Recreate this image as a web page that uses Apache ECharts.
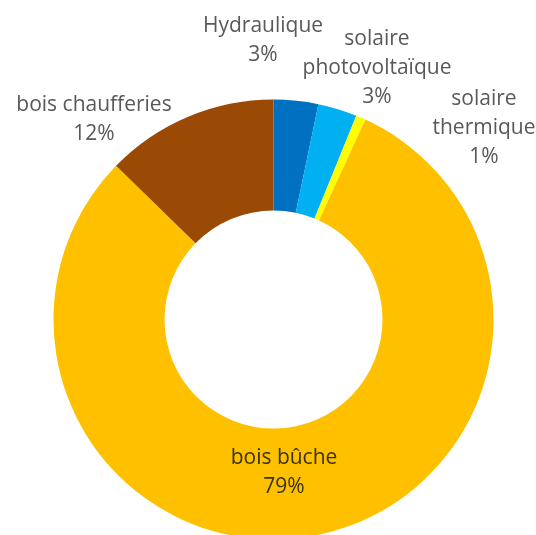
<!DOCTYPE html>
<html>
<head>
<meta charset="utf-8">
<script src="https://cdn.jsdelivr.net/npm/echarts@6/dist/echarts.min.js"></script>
<style>
  html, body { margin: 0; padding: 0; background: #ffffff; }
  #chart { width: 536px; height: 535px; }
</style>
</head>
<body>
<div id="chart"></div>
<script>
// Renewable energy mix (share of each source, %)
const categories = ['Hydraulique', 'solaire photovoltaïque', 'solaire thermique', 'bois bûche', 'bois chaufferies'];
const shares = [3.2, 2.8, 0.7, 78.6, 12.4];
const colors = ['#0070C0', '#00B0F0', '#FFFF00', '#FFC000', '#9A4A04'];

// Label anchor points (x, y centre of each text block) in pixels
const labelAnchors = [
  [263, 41],
  [377, 68],
  [484, 128],
  [284, 473],
  [94, 120]
];

const chart = echarts.init(document.getElementById('chart'), null, { renderer: 'canvas' });

const seriesData = categories.map((name, i) => ({
  name: name,
  value: shares[i],
  itemStyle: { color: colors[i] },
  label: { color: i === 3 ? '#3a3300' : '#595959' }
}));

chart.setOption({
  animation: false,
  series: [{
    type: 'pie',
    center: [273.5, 319.5],
    radius: [109, 220],
    startAngle: 90,
    clockwise: true,
    avoidLabelOverlap: false,
    itemStyle: { borderWidth: 0 },
    label: {
      show: true,
      position: 'outside',
      fontFamily: '"Open Sans", sans-serif',
      fontSize: 21,
      lineHeight: 29,
      align: 'center',
      formatter: p => p.name.replace('solaire ', 'solaire\n') + '\n' + Math.round(p.value) + '%'
    },
    labelLine: { show: false },
    labelLayout: p => ({
      x: labelAnchors[p.dataIndex][0],
      y: labelAnchors[p.dataIndex][1],
      align: 'center',
      verticalAlign: 'middle'
    }),
    data: seriesData
  }]
});
</script>
</body>
</html>
